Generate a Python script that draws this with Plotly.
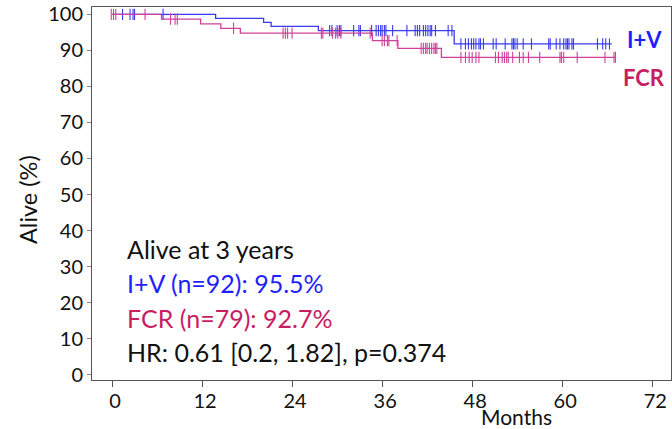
import plotly.graph_objects as go
import numpy as np

# I+V arm: event times (months) and survival (%) after each event
iv_event_months = [0, 13.8, 20.2, 21.2, 27.5, 45.6, 66.6]
iv_survival = [100, 98.9, 97.8, 96.7, 95.5, 91.8, 91.8]
iv_censor_months = [1.4, 2.4, 2.8, 3.0, 6.8, 29.0, 29.3, 30.0, 30.3, 30.5, 32.2, 32.9,
                    33.1, 34.6, 35.2, 35.5, 35.8, 36.0, 36.3, 36.5, 37.4, 39.3, 40.4, 40.7,
                    41.0, 41.5, 41.8, 42.1, 42.4, 42.6, 43.1, 44.8, 45.3,
                    46.5, 47.1, 47.5, 47.9, 48.2, 48.5, 48.9, 49.1, 49.5, 50.8,
                    51.2, 52.4, 53.3, 53.5, 53.7, 54.0, 54.8, 55.9, 58.2, 58.4, 59.2,
                    59.7, 60.2, 60.5, 60.7, 60.9, 61.3, 61.5, 64.7, 65.4, 65.8, 66.3]

# FCR arm
fcr_event_months = [0, 6.6, 11.8, 14.5, 17.1, 34.7, 38.1, 43.9, 67.2]
fcr_survival = [100, 98.7, 97.4, 96.1, 94.8, 92.7, 90.6, 88.1, 88.1]
fcr_censor_months = [-0.1, 0.2, 0.5, 4.4, 7.8, 8.4, 8.7, 16.2, 22.8, 23.1, 23.4, 24.0,
                     27.9, 28.1, 29.4, 29.8, 30.1, 30.5, 34.4, 36.0, 36.3, 36.7, 36.9, 38.0,
                     41.2, 41.5, 41.8, 42.0, 42.3, 42.6, 42.9, 43.1, 43.3,
                     46.5, 47.1, 47.6, 48.0, 48.5, 48.9, 51.1, 51.5, 52.0, 52.3, 52.6,
                     52.8, 53.4, 54.3, 54.8, 55.5, 57.0, 59.7, 59.9, 60.2, 62.0, 65.7,
                     66.9, 67.1]

x_ticks = [0, 12, 24, 36, 48, 60, 72]
y_ticks = [0, 10, 20, 30, 40, 50, 60, 70, 80, 90, 100]

BLUE_LINE = "#3a3af0"
PINK_LINE = "#d0409a"
BLUE_TXT = "#1f1fff"
PINK_TXT = "#c81e5f"
FONT = "Lato"

L, R, T, B = 92, 671, 7, 380
W, H = R - L, B - T


def step_value(times, surv, t):
    idx = np.searchsorted(np.array(times), t, side="right") - 1
    idx = max(idx, 0)
    return surv[idx]


def px(xp):
    return (xp - L) / W


def py(yp):
    return (B - yp) / H


fig = go.Figure()
for times, surv, cens, col in [
    (iv_event_months, iv_survival, iv_censor_months, BLUE_LINE),
    (fcr_event_months, fcr_survival, fcr_censor_months, PINK_LINE),
]:
    fig.add_trace(go.Scatter(x=times, y=surv, mode="lines", line_shape="hv",
                             line=dict(color=col, width=1.3), showlegend=False,
                             hoverinfo="skip"))
    cy = [step_value(times, surv, t) for t in cens]
    fig.add_trace(go.Scatter(x=cens, y=cy, mode="markers",
                             marker=dict(symbol="line-ns", size=8,
                                         line=dict(color=col, width=1.1)),
                             showlegend=False, hoverinfo="skip"))

texts = [
    ("Alive at 3 years", "#111111", 249),
    ("I+V (n=92): 95.5%", BLUE_TXT, 283),
    ("FCR (n=79): 92.7%", PINK_TXT, 318),
    ("HR: 0.61 [0.2, 1.82], p=0.374", "#111111", 352),
]
for txt, col, ypx in texts:
    fig.add_annotation(text=txt, xref="paper", yref="paper",
                       x=px(125), y=py(ypx),
                       xanchor="left", yanchor="middle", showarrow=False,
                       font=dict(family=FONT, size=25, color=col))

fig.add_annotation(text="<b>I+V</b>", xref="paper", yref="paper",
                   x=px(644), y=py(40), xanchor="center", yanchor="middle",
                   showarrow=False, font=dict(family=FONT, size=22, color=BLUE_TXT))
fig.add_annotation(text="<b>FCR</b>", xref="paper", yref="paper",
                   x=px(644), y=py(77), xanchor="center", yanchor="middle",
                   showarrow=False, font=dict(family=FONT, size=22, color=PINK_TXT))
fig.add_annotation(text="Months", xref="paper", yref="paper",
                   x=px(516), y=py(416), xanchor="center", yanchor="middle",
                   showarrow=False, font=dict(family=FONT, size=21, color="#111111"))
fig.add_annotation(text="Alive (%)", xref="paper", yref="paper",
                   x=px(28), y=py(200), xanchor="center", yanchor="middle",
                   textangle=-90, showarrow=False,
                   font=dict(family=FONT, size=23.5, color="#111111"))

fig.update_layout(
    width=672, height=429,
    margin=dict(l=L, r=672 - R, t=T, b=429 - B, autoexpand=False),
    paper_bgcolor="white", plot_bgcolor="white",
    font=dict(family=FONT, color="#111111"),
    xaxis=dict(range=[-2.67, 74.5], tickvals=x_ticks, ticks="outside", ticklen=6,
               tickcolor="#555555", showgrid=False, zeroline=False,
               showline=True, linecolor="#555555", linewidth=1, mirror=True,
               tickfont=dict(family=FONT, size=20), ticklabelshift=3,
               ticklabelstandoff=-3, automargin=False),
    yaxis=dict(range=[-1.5, 102.06], tickvals=y_ticks, ticks="outside", ticklen=4,
               tickcolor="#888888", showgrid=False, zeroline=False,
               showline=True, linecolor="#555555", linewidth=1, mirror=True,
               tickfont=dict(family=FONT, size=20), automargin=False),
)

fig.write_html("out.html")
